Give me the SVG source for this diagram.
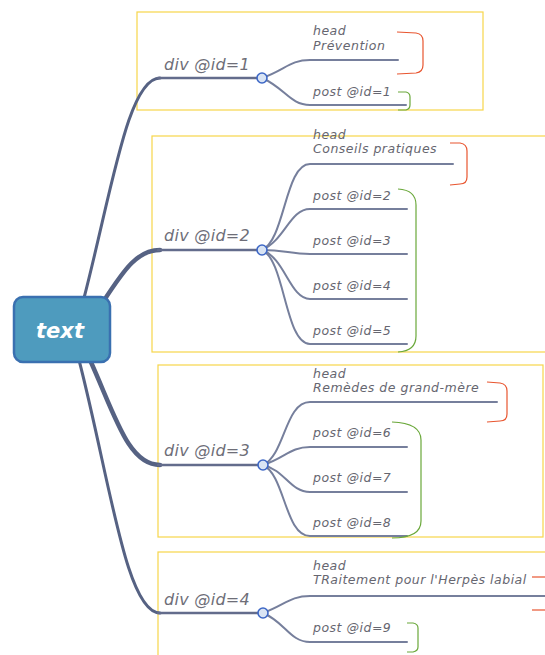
<svg xmlns="http://www.w3.org/2000/svg" width="545" height="655" viewBox="0 0 545 655">
<style>
.frame{fill:none;stroke:#f7d64a;stroke-width:1.2}
.main{fill:none;stroke:#566283;stroke-linecap:round}
.div{fill:none;stroke:#636c8c;stroke-width:2.5;stroke-linecap:round}
.sub{fill:none;stroke:#767f9c;stroke-width:2;stroke-linecap:round}
.dot{fill:#d9e4f4;stroke:#3d67c6;stroke-width:1.6}
.red{fill:none;stroke:#e8552f;stroke-width:1.2}
.green{fill:none;stroke:#6aa83a;stroke-width:1.2}
.dl{font-family:"DejaVu Sans",Verdana,sans-serif;font-style:italic;font-size:16px;letter-spacing:0.3px;fill:#6e6e78}
.cl{font-family:"DejaVu Sans",Verdana,sans-serif;font-style:italic;font-size:12.5px;letter-spacing:0.5px;fill:#666670}
.ct{font-family:"DejaVu Sans",Verdana,sans-serif;font-style:italic;font-weight:bold;font-size:21px;fill:#ffffff}
</style>
<rect width="545" height="655" fill="#ffffff"/>
<g id="frames">
<rect class="frame" x="137" y="12" width="346" height="98"/>
<rect class="frame" x="152" y="136" width="410" height="216"/>
<rect class="frame" x="158" y="365" width="385" height="172"/>
<rect class="frame" x="158" y="552" width="410" height="120"/>
</g>
<g id="connectors">
<path class="main" stroke-width="3" d="M84,298 C112,190 128,78 160,78"/>
<path class="main" stroke-width="4.5" d="M103,302 C125,268 138,250 160,250"/>
<path class="main" stroke-width="4.5" d="M90,360 C115,415 128,465 160,465"/>
<path class="main" stroke-width="3" d="M79,360 C110,480 126,613 160,613"/>
<path class="div" d="M158,78 L258,78"/>
<path class="div" d="M158,250 L258,250"/>
<path class="div" d="M158,465 L258,465"/>
<path class="div" d="M158,613 L258,613"/>
<path class="sub" d="M262,78 C285,70 290,60 310,60 L398,60"/>
<path class="sub" d="M262,78 C285,88 290,105 310,105 L406,105"/>
<path class="sub" d="M262,250 C285,240 285,164 310,164 L453,164"/>
<path class="sub" d="M262,250 C285,240 290,209 310,209 L407,209"/>
<path class="sub" d="M262,250 C285,250 290,254 310,254 L407,254"/>
<path class="sub" d="M262,250 C285,258 290,299 310,299 L407,299"/>
<path class="sub" d="M262,250 C285,260 285,344 310,344 L407,344"/>
<path class="sub" d="M263,465 C285,455 285,402 310,402 L497,402"/>
<path class="sub" d="M263,465 C285,458 290,447 310,447 L407,447"/>
<path class="sub" d="M263,465 C285,470 290,492 310,492 L407,492"/>
<path class="sub" d="M263,465 C285,475 285,536 310,536 L407,536"/>
<path class="sub" d="M263,613 C285,605 290,596 310,596 L548,596"/>
<path class="sub" d="M263,613 C285,622 290,642 310,642 L407,642"/>
<path class="red" d="M397,32 L416,33 Q423,34 423,41 L423,65 Q423,72 416,73 L397,74"/>
<path class="green" d="M398,92 L406,92 Q410,93 410,97 L410,105 Q410,109 406,110 L398,110"/>
<path class="red" d="M450,143 L460,143 Q467,144 467,151 L467,177 Q467,184 460,184 L450,185"/>
<path class="green" d="M398,189 Q416,190 416,205 L416,336 Q416,351 398,352"/>
<path class="red" d="M487,382 L500,383 Q507,384 507,391 L507,414 Q507,421 500,421 L487,422"/>
<path class="green" d="M392,422 Q421,423 421,440 L421,521 Q421,538 392,538"/>
<path class="red" d="M532,577 L548,577"/>
<path class="red" d="M532,610 L548,610"/>
<path class="green" d="M407,623 L413,623 Q418,624 418,628 L418,647 Q418,651 413,652 L407,652"/>
</g>
<g id="node-text">
<rect x="14" y="297" width="96" height="65" rx="9" fill="#4e9bbe" stroke="#3a70b0" stroke-width="2.5"/>
<text class="ct" x="60" y="338" text-anchor="middle">text</text>
</g>
<g id="node-div1">
<text class="dl" x="164" y="70">div @id=1</text>
<circle class="dot" cx="262" cy="78" r="5"/>
</g>
<g id="node-head1">
<text class="cl" x="313" y="35">head</text>
<text class="cl" x="313" y="50">Prévention</text>
</g>
<g id="node-post1"><text class="cl" x="313" y="96">post @id=1</text></g>
<g id="node-div2">
<text class="dl" x="164" y="241">div @id=2</text>
<circle class="dot" cx="262" cy="250" r="5"/>
</g>
<g id="node-head2">
<text class="cl" x="313" y="139">head</text>
<text class="cl" x="313" y="153">Conseils pratiques</text>
</g>
<g id="node-post2"><text class="cl" x="313" y="200">post @id=2</text></g>
<g id="node-post3"><text class="cl" x="313" y="245">post @id=3</text></g>
<g id="node-post4"><text class="cl" x="313" y="290">post @id=4</text></g>
<g id="node-post5"><text class="cl" x="313" y="335">post @id=5</text></g>
<g id="node-div3">
<text class="dl" x="164" y="456">div @id=3</text>
<circle class="dot" cx="263" cy="465" r="5"/>
</g>
<g id="node-head3">
<text class="cl" x="313" y="378">head</text>
<text class="cl" x="313" y="392">Remèdes de grand-mère</text>
</g>
<g id="node-post6"><text class="cl" x="313" y="437">post @id=6</text></g>
<g id="node-post7"><text class="cl" x="313" y="482">post @id=7</text></g>
<g id="node-post8"><text class="cl" x="313" y="527">post @id=8</text></g>
<g id="node-div4">
<text class="dl" x="164" y="605">div @id=4</text>
<circle class="dot" cx="263" cy="613" r="5"/>
</g>
<g id="node-head4">
<text class="cl" x="313" y="570">head</text>
<text class="cl" x="313" y="584">TRaitement pour l'Herpès labial</text>
</g>
<g id="node-post9"><text class="cl" x="313" y="632">post @id=9</text></g>
</svg>
